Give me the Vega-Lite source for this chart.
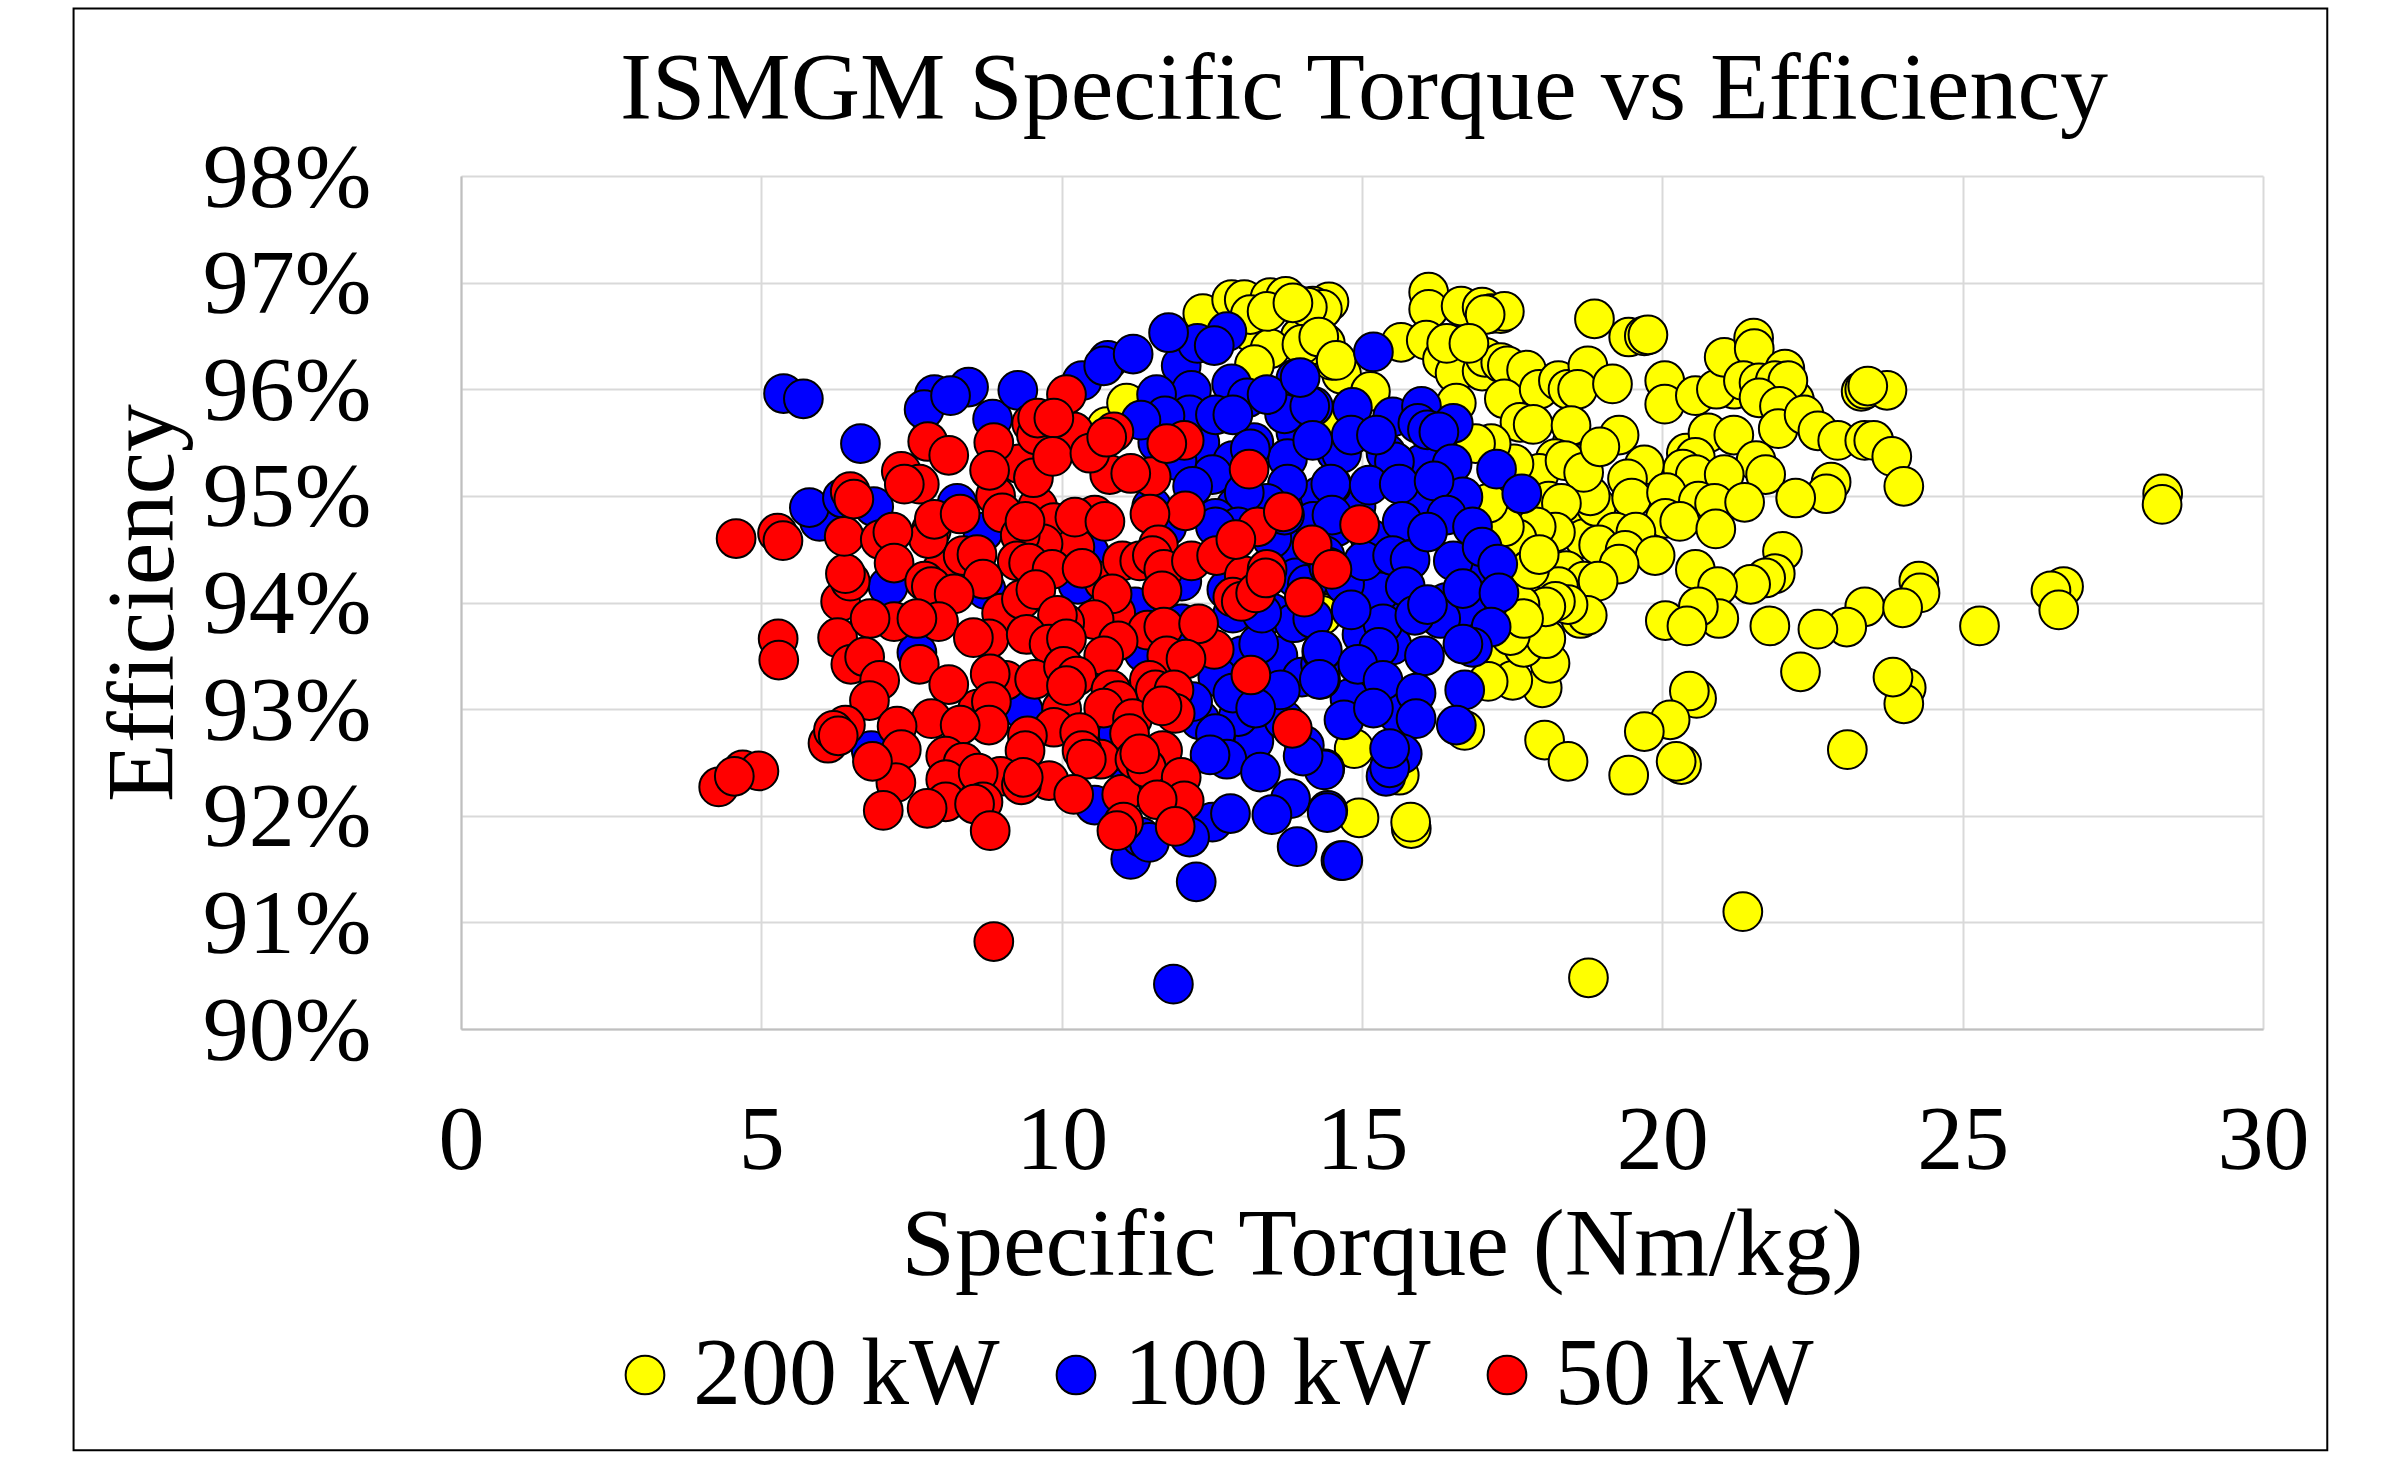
{"$schema":"https://vega.github.io/schema/vega-lite/v6.json","autosize":"none","width":1802,"height":853,"padding":{"left":461,"top":176,"right":135,"bottom":437},"background":"white","title":{"text":"ISMGM Specific Torque vs Efficiency","font":"Liberation Serif","fontSize":96,"fontWeight":"normal","color":"black","anchor":"middle","offset":0,"dy":131,"dx":2},"config":{"view":{"stroke":null},"font":"Liberation Serif"},"layer":[{"data":{"values":[{}]},"mark":{"type":"rect","fill":null,"stroke":"black","strokeWidth":2},"encoding":{"x":{"datum":-6.45,"type":"quantitative","scale":{"domain":[0,30],"nice":false},"axis":{"title":"Specific Torque (Nm/kg)","titleX":921,"format":"d","labelFlush":false,"grid":true,"values":[0,5,10,15,20,25,30],"ticks":false,"gridColor":"#d9d9d9","gridWidth":2,"domainColor":"#bfbfbf","domainWidth":2,"labelFont":"Liberation Serif","labelFontSize":92,"labelColor":"black","labelPadding":66,"titleFont":"Liberation Serif","titleFontSize":96,"titleFontWeight":"normal","titleColor":"black","titlePadding":12}},"x2":{"datum":31.07},"y":{"datum":99.57,"type":"quantitative","scale":{"domain":[90,98],"nice":false},"axis":{"title":"Efficiency","grid":true,"values":[90,91,92,93,94,95,96,97,98],"labelExpr":"datum.value + '%'","labelOffset":2,"labelFlush":false,"ticks":false,"gridColor":"#d9d9d9","gridWidth":2,"domainColor":"#bfbfbf","domainWidth":2,"labelFont":"Liberation Serif","labelFontSize":92,"labelColor":"black","labelPadding":90,"titleFont":"Liberation Serif","titleFontSize":96,"titleFontWeight":"normal","titleColor":"black","titlePadding":69}},"y2":{"datum":86.05}}},{"data":{"values":[
{"power":"200 kW","torque":18.5,"eff":94.9},{"power":"200 kW","torque":18.7,"eff":94.6},{"power":"200 kW","torque":18.9,"eff":94.9},{"power":"200 kW","torque":18.4,"eff":94.3},{"power":"200 kW","torque":18.7,"eff":94.2},{"power":"200 kW","torque":17.9,"eff":94.1},{"power":"200 kW","torque":17.7,"eff":94.5},{"power":"200 kW","torque":18.5,"eff":95.5},{"power":"200 kW","torque":18.8,"eff":95.0},{"power":"200 kW","torque":19.6,"eff":95.2},{"power":"200 kW","torque":19.7,"eff":94.6},{"power":"200 kW","torque":17.4,"eff":93.9},{"power":"200 kW","torque":17.3,"eff":93.5},{"power":"200 kW","torque":18.0,"eff":93.2},{"power":"200 kW","torque":20.8,"eff":95.0},{"power":"200 kW","torque":20.4,"eff":95.4},{"power":"200 kW","torque":22.2,"eff":95.9},{"power":"200 kW","torque":21.2,"eff":96.0},{"power":"200 kW","torque":14.45,"eff":96.82},{"power":"200 kW","torque":14.18,"eff":96.78},{"power":"200 kW","torque":13.97,"eff":96.78},{"power":"200 kW","torque":14.34,"eff":96.75},{"power":"200 kW","torque":16.11,"eff":96.91},{"power":"200 kW","torque":16.11,"eff":96.75},{"power":"200 kW","torque":16.65,"eff":96.78},{"power":"200 kW","torque":17.0,"eff":96.77},{"power":"200 kW","torque":17.15,"eff":96.71},{"power":"200 kW","torque":17.31,"eff":96.71},{"power":"200 kW","torque":17.37,"eff":96.73},{"power":"200 kW","torque":17.05,"eff":96.7},{"power":"200 kW","torque":15.65,"eff":96.44},{"power":"200 kW","torque":16.07,"eff":96.46},{"power":"200 kW","torque":16.34,"eff":96.28},{"power":"200 kW","torque":16.57,"eff":96.41},{"power":"200 kW","torque":16.55,"eff":96.15},{"power":"200 kW","torque":17.0,"eff":96.17},{"power":"200 kW","torque":17.05,"eff":96.3},{"power":"200 kW","torque":17.31,"eff":96.25},{"power":"200 kW","torque":17.42,"eff":96.22},{"power":"200 kW","torque":17.74,"eff":96.18},{"power":"200 kW","torque":16.57,"eff":95.87},{"power":"200 kW","torque":17.37,"eff":95.91},{"power":"200 kW","torque":17.95,"eff":96.0},{"power":"200 kW","torque":18.27,"eff":96.08},{"power":"200 kW","torque":18.43,"eff":96.0},{"power":"200 kW","torque":18.76,"eff":96.22},{"power":"200 kW","torque":18.59,"eff":96.0},{"power":"200 kW","torque":19.17,"eff":96.05},{"power":"200 kW","torque":17.63,"eff":95.69},{"power":"200 kW","torque":17.85,"eff":95.67},{"power":"200 kW","torque":18.48,"eff":95.66},{"power":"200 kW","torque":18.87,"eff":96.66},{"power":"200 kW","torque":19.44,"eff":96.49},{"power":"200 kW","torque":19.7,"eff":96.5},{"power":"200 kW","torque":19.76,"eff":96.51},{"power":"200 kW","torque":20.04,"eff":96.08},{"power":"200 kW","torque":20.04,"eff":95.86},{"power":"200 kW","torque":20.55,"eff":95.94},{"power":"200 kW","torque":20.9,"eff":96.0},{"power":"200 kW","torque":21.03,"eff":96.3},{"power":"200 kW","torque":21.52,"eff":96.48},{"power":"200 kW","torque":21.53,"eff":96.38},{"power":"200 kW","torque":21.35,"eff":96.08},{"power":"200 kW","torque":21.61,"eff":96.06},{"power":"200 kW","torque":22.04,"eff":96.19},{"power":"200 kW","torque":21.88,"eff":96.08},{"power":"200 kW","torque":22.09,"eff":96.08},{"power":"200 kW","torque":21.61,"eff":95.92},{"power":"200 kW","torque":21.95,"eff":95.84},{"power":"200 kW","torque":21.93,"eff":95.63},{"power":"200 kW","torque":22.36,"eff":95.76},{"power":"200 kW","torque":22.59,"eff":95.61},{"power":"200 kW","torque":22.92,"eff":95.52},{"power":"200 kW","torque":23.37,"eff":95.52},{"power":"200 kW","torque":23.52,"eff":95.52},{"power":"200 kW","torque":23.82,"eff":95.37},{"power":"200 kW","torque":24.02,"eff":95.09},{"power":"200 kW","torque":23.31,"eff":95.98},{"power":"200 kW","torque":23.37,"eff":96.0},{"power":"200 kW","torque":23.74,"eff":95.99},{"power":"200 kW","torque":23.42,"eff":96.03},{"power":"200 kW","torque":19.28,"eff":95.57},{"power":"200 kW","torque":20.76,"eff":95.59},{"power":"200 kW","torque":21.19,"eff":95.57},{"power":"200 kW","torque":21.56,"eff":95.33},{"power":"200 kW","torque":21.72,"eff":95.2},{"power":"200 kW","torque":20.55,"eff":95.36},{"power":"200 kW","torque":20.34,"eff":95.25},{"power":"200 kW","torque":20.55,"eff":95.2},{"power":"200 kW","torque":21.03,"eff":95.2},{"power":"200 kW","torque":19.7,"eff":95.29},{"power":"200 kW","torque":19.42,"eff":95.16},{"power":"200 kW","torque":19.49,"eff":94.98},{"power":"200 kW","torque":20.07,"eff":95.03},{"power":"200 kW","torque":18.22,"eff":95.35},{"power":"200 kW","torque":17.95,"eff":95.21},{"power":"200 kW","torque":18.64,"eff":95.3},{"power":"200 kW","torque":18.38,"eff":95.33},{"power":"200 kW","torque":18.69,"eff":95.22},{"power":"200 kW","torque":18.96,"eff":95.46},{"power":"200 kW","torque":18.11,"eff":94.95},{"power":"200 kW","torque":18.32,"eff":94.93},{"power":"200 kW","torque":20.6,"eff":94.95},{"power":"200 kW","torque":20.87,"eff":94.93},{"power":"200 kW","torque":21.37,"eff":94.94},{"power":"200 kW","torque":20.05,"eff":94.79},{"power":"200 kW","torque":20.29,"eff":94.76},{"power":"200 kW","torque":20.89,"eff":94.69},{"power":"200 kW","torque":22.81,"eff":95.13},{"power":"200 kW","torque":22.73,"eff":95.02},{"power":"200 kW","torque":22.22,"eff":94.98},{"power":"200 kW","torque":28.33,"eff":95.02},{"power":"200 kW","torque":28.32,"eff":94.92},{"power":"200 kW","torque":18.22,"eff":94.66},{"power":"200 kW","torque":17.9,"eff":94.71},{"power":"200 kW","torque":19.22,"eff":94.66},{"power":"200 kW","torque":19.56,"eff":94.66},{"power":"200 kW","torque":18.94,"eff":94.54},{"power":"200 kW","torque":19.38,"eff":94.49},{"power":"200 kW","torque":19.88,"eff":94.44},{"power":"200 kW","torque":19.28,"eff":94.36},{"power":"200 kW","torque":18.93,"eff":94.2},{"power":"200 kW","torque":22.0,"eff":94.48},{"power":"200 kW","torque":21.88,"eff":94.27},{"power":"200 kW","torque":21.72,"eff":94.23},{"power":"200 kW","torque":21.47,"eff":94.17},{"power":"200 kW","torque":20.55,"eff":94.31},{"power":"200 kW","torque":20.92,"eff":94.15},{"power":"200 kW","torque":24.27,"eff":94.2},{"power":"200 kW","torque":24.29,"eff":94.09},{"power":"200 kW","torque":23.37,"eff":93.96},{"power":"200 kW","torque":24.0,"eff":93.95},{"power":"200 kW","torque":23.07,"eff":93.77},{"power":"200 kW","torque":22.59,"eff":93.75},{"power":"200 kW","torque":21.79,"eff":93.78},{"power":"200 kW","torque":20.94,"eff":93.85},{"power":"200 kW","torque":20.6,"eff":93.96},{"power":"200 kW","torque":20.05,"eff":93.83},{"power":"200 kW","torque":20.41,"eff":93.78},{"power":"200 kW","torque":25.28,"eff":93.78},{"power":"200 kW","torque":26.68,"eff":94.15},{"power":"200 kW","torque":26.47,"eff":94.11},{"power":"200 kW","torque":26.6,"eff":93.93},{"power":"200 kW","torque":22.3,"eff":93.35},{"power":"200 kW","torque":24.06,"eff":93.2},{"power":"200 kW","torque":24.02,"eff":93.05},{"power":"200 kW","torque":23.84,"eff":93.3},{"power":"200 kW","torque":20.57,"eff":93.1},{"power":"200 kW","torque":20.45,"eff":93.17},{"power":"200 kW","torque":20.13,"eff":92.9},{"power":"200 kW","torque":19.7,"eff":92.79},{"power":"200 kW","torque":20.32,"eff":92.48},{"power":"200 kW","torque":20.23,"eff":92.51},{"power":"200 kW","torque":19.44,"eff":92.38},{"power":"200 kW","torque":18.04,"eff":92.71},{"power":"200 kW","torque":18.43,"eff":92.51},{"power":"200 kW","torque":23.08,"eff":92.62},{"power":"200 kW","torque":16.71,"eff":92.8},{"power":"200 kW","torque":14.87,"eff":92.63},{"power":"200 kW","torque":15.62,"eff":92.38},{"power":"200 kW","torque":14.95,"eff":91.98},{"power":"200 kW","torque":15.82,"eff":91.88},{"power":"200 kW","torque":15.81,"eff":91.94},{"power":"200 kW","torque":21.34,"eff":91.1},{"power":"200 kW","torque":18.77,"eff":90.48},{"power":"200 kW","torque":18.13,"eff":93.43},{"power":"200 kW","torque":17.51,"eff":93.27},{"power":"200 kW","torque":17.1,"eff":93.26},{"power":"200 kW","torque":17.69,"eff":93.58},{"power":"200 kW","torque":18.06,"eff":93.66},{"power":"200 kW","torque":17.47,"eff":93.69},{"power":"200 kW","torque":18.64,"eff":93.85},{"power":"200 kW","torque":18.75,"eff":93.88},{"power":"200 kW","torque":18.27,"eff":94.15},{"power":"200 kW","torque":18.43,"eff":93.98},{"power":"200 kW","torque":18.22,"eff":94.01},{"power":"200 kW","torque":18.06,"eff":93.96},{"power":"200 kW","torque":17.63,"eff":93.98},{"power":"200 kW","torque":17.69,"eff":93.85},{"power":"200 kW","torque":17.58,"eff":94.6},{"power":"200 kW","torque":17.79,"eff":94.31},{"power":"200 kW","torque":17.95,"eff":94.45},{"power":"200 kW","torque":17.21,"eff":94.86},{"power":"200 kW","torque":17.37,"eff":94.71},{"power":"200 kW","torque":17.1,"eff":94.93},{"power":"200 kW","torque":17.53,"eff":95.3},{"power":"200 kW","torque":17.15,"eff":95.49},{"power":"200 kW","torque":16.89,"eff":95.49},{"power":"200 kW","torque":14.66,"eff":96.14},{"power":"200 kW","torque":14.5,"eff":96.27},{"power":"200 kW","torque":14.39,"eff":96.43},{"power":"200 kW","torque":14.13,"eff":96.41},{"power":"200 kW","torque":13.97,"eff":96.49},{"power":"200 kW","torque":15.14,"eff":95.98},{"power":"200 kW","torque":16.41,"eff":96.43},{"power":"200 kW","torque":16.78,"eff":96.43},{"power":"200 kW","torque":14.29,"eff":95.71},{"power":"200 kW","torque":14.34,"eff":93.9},{"power":"200 kW","torque":12.35,"eff":96.71},{"power":"200 kW","torque":12.83,"eff":96.84},{"power":"200 kW","torque":13.04,"eff":96.84},{"power":"200 kW","torque":13.47,"eff":96.86},{"power":"200 kW","torque":13.73,"eff":96.87},{"power":"200 kW","torque":14.09,"eff":96.77},{"power":"200 kW","torque":13.14,"eff":96.54},{"power":"200 kW","torque":13.47,"eff":96.38},{"power":"200 kW","torque":13.21,"eff":96.23},{"power":"200 kW","torque":14.0,"eff":96.42},{"power":"200 kW","torque":14.28,"eff":96.49},{"power":"200 kW","torque":14.57,"eff":96.27},{"power":"200 kW","torque":13.14,"eff":96.7},{"power":"200 kW","torque":13.42,"eff":96.73},{"power":"200 kW","torque":13.85,"eff":96.81},{"power":"200 kW","torque":10.75,"eff":95.65},{"power":"200 kW","torque":11.08,"eff":95.87},{"power":"200 kW","torque":14.47,"eff":95.68},{"power":"200 kW","torque":14.33,"eff":93.88},
{"power":"100 kW","torque":13.5,"eff":93.9},{"power":"100 kW","torque":13.0,"eff":93.5},{"power":"100 kW","torque":12.6,"eff":93.3},{"power":"100 kW","torque":13.8,"eff":94.5},{"power":"100 kW","torque":14.3,"eff":95.0},{"power":"100 kW","torque":13.2,"eff":95.5},{"power":"100 kW","torque":12.0,"eff":94.2},{"power":"100 kW","torque":11.5,"eff":94.9},{"power":"100 kW","torque":15.9,"eff":94.9},{"power":"100 kW","torque":16.2,"eff":95.5},{"power":"100 kW","torque":15.0,"eff":93.7},{"power":"100 kW","torque":15.6,"eff":94.0},{"power":"100 kW","torque":12.0,"eff":93.8},{"power":"100 kW","torque":13.6,"eff":93.5},{"power":"100 kW","torque":14.0,"eff":93.3},{"power":"100 kW","torque":13.5,"eff":94.6},{"power":"100 kW","torque":13.9,"eff":95.6},{"power":"100 kW","torque":12.3,"eff":95.5},{"power":"100 kW","torque":11.6,"eff":95.5},{"power":"100 kW","torque":12.9,"eff":94.9},{"power":"100 kW","torque":14.9,"eff":94.9},{"power":"100 kW","torque":15.4,"eff":95.4},{"power":"100 kW","torque":16.0,"eff":95.3},{"power":"100 kW","torque":15.3,"eff":94.1},{"power":"100 kW","torque":16.4,"eff":94.0},{"power":"100 kW","torque":16.9,"eff":94.3},{"power":"100 kW","torque":15.5,"eff":93.6},{"power":"100 kW","torque":14.8,"eff":93.1},{"power":"100 kW","torque":15.6,"eff":92.95},{"power":"100 kW","torque":13.2,"eff":92.7},{"power":"100 kW","torque":13.7,"eff":92.9},{"power":"100 kW","torque":14.7,"eff":92.9},{"power":"100 kW","torque":11.8,"eff":93.1},{"power":"100 kW","torque":12.3,"eff":92.9},{"power":"100 kW","torque":5.37,"eff":95.96},{"power":"100 kW","torque":5.7,"eff":95.91},{"power":"100 kW","torque":6.65,"eff":95.49},{"power":"100 kW","torque":5.97,"eff":94.76},{"power":"100 kW","torque":5.8,"eff":94.89},{"power":"100 kW","torque":6.35,"eff":94.98},{"power":"100 kW","torque":6.87,"eff":94.9},{"power":"100 kW","torque":7.88,"eff":95.95},{"power":"100 kW","torque":8.45,"eff":96.02},{"power":"100 kW","torque":7.71,"eff":95.81},{"power":"100 kW","torque":8.15,"eff":95.94},{"power":"100 kW","torque":8.85,"eff":95.72},{"power":"100 kW","torque":9.27,"eff":95.99},{"power":"100 kW","torque":10.34,"eff":96.08},{"power":"100 kW","torque":10.77,"eff":96.27},{"power":"100 kW","torque":10.7,"eff":96.22},{"power":"100 kW","torque":11.19,"eff":96.33},{"power":"100 kW","torque":11.99,"eff":96.22},{"power":"100 kW","torque":12.26,"eff":96.43},{"power":"100 kW","torque":12.75,"eff":96.54},{"power":"100 kW","torque":11.78,"eff":96.53},{"power":"100 kW","torque":12.54,"eff":96.41},{"power":"100 kW","torque":12.16,"eff":95.99},{"power":"100 kW","torque":12.83,"eff":96.05},{"power":"100 kW","torque":13.9,"eff":96.1},{"power":"100 kW","torque":11.58,"eff":95.95},{"power":"100 kW","torque":13.09,"eff":95.92},{"power":"100 kW","torque":12.13,"eff":95.76},{"power":"100 kW","torque":11.72,"eff":95.75},{"power":"100 kW","torque":12.56,"eff":95.76},{"power":"100 kW","torque":12.85,"eff":95.76},{"power":"100 kW","torque":13.71,"eff":95.77},{"power":"100 kW","torque":13.42,"eff":95.95},{"power":"100 kW","torque":14.19,"eff":95.84},{"power":"100 kW","torque":11.32,"eff":95.71},{"power":"100 kW","torque":13.76,"eff":95.35},{"power":"100 kW","torque":12.85,"eff":95.33},{"power":"100 kW","torque":13.14,"eff":95.44},{"power":"100 kW","torque":12.51,"eff":95.2},{"power":"100 kW","torque":11.92,"eff":95.33},{"power":"100 kW","torque":14.57,"eff":95.41},{"power":"100 kW","torque":14.5,"eff":95.1},{"power":"100 kW","torque":13.76,"eff":95.11},{"power":"100 kW","torque":13.42,"eff":94.93},{"power":"100 kW","torque":13.04,"eff":95.03},{"power":"100 kW","torque":12.18,"eff":95.09},{"power":"100 kW","torque":12.56,"eff":94.79},{"power":"100 kW","torque":11.75,"eff":94.71},{"power":"100 kW","torque":14.19,"eff":94.76},{"power":"100 kW","torque":14.57,"eff":94.71},{"power":"100 kW","torque":13.28,"eff":93.61},{"power":"100 kW","torque":13.87,"eff":93.81},{"power":"100 kW","torque":14.31,"eff":93.28},{"power":"100 kW","torque":14.31,"eff":93.42},{"power":"100 kW","torque":14.33,"eff":93.54},{"power":"100 kW","torque":12.94,"eff":92.93},{"power":"100 kW","torque":12.85,"eff":93.15},{"power":"100 kW","torque":13.64,"eff":93.18},{"power":"100 kW","torque":13.23,"eff":93.01},{"power":"100 kW","torque":12.56,"eff":92.77},{"power":"100 kW","torque":12.75,"eff":92.53},{"power":"100 kW","torque":12.47,"eff":92.57},{"power":"100 kW","torque":13.31,"eff":92.41},{"power":"100 kW","torque":14.04,"eff":92.66},{"power":"100 kW","torque":14.38,"eff":92.44},{"power":"100 kW","torque":13.81,"eff":92.16},{"power":"100 kW","torque":13.5,"eff":92.01},{"power":"100 kW","torque":14.43,"eff":92.05},{"power":"100 kW","torque":12.51,"eff":91.94},{"power":"100 kW","torque":12.81,"eff":92.02},{"power":"100 kW","torque":13.92,"eff":91.71},{"power":"100 kW","torque":14.65,"eff":91.58},{"power":"100 kW","torque":12.24,"eff":91.38},{"power":"100 kW","torque":11.86,"eff":90.42},{"power":"100 kW","torque":11.15,"eff":91.59},{"power":"100 kW","torque":11.32,"eff":91.8},{"power":"100 kW","torque":11.46,"eff":91.75},{"power":"100 kW","torque":12.13,"eff":91.8},{"power":"100 kW","torque":10.55,"eff":92.1},{"power":"100 kW","torque":12.18,"eff":93.07},{"power":"100 kW","torque":11.13,"eff":92.29},{"power":"100 kW","torque":10.94,"eff":92.77},{"power":"100 kW","torque":9.36,"eff":92.99},{"power":"100 kW","torque":6.83,"eff":92.61},{"power":"100 kW","torque":7.59,"eff":93.53},{"power":"100 kW","torque":11.37,"eff":93.53},{"power":"100 kW","torque":11.22,"eff":93.96},{"power":"100 kW","torque":10.27,"eff":94.17},{"power":"100 kW","torque":8.69,"eff":94.66},{"power":"100 kW","torque":8.26,"eff":94.93},{"power":"100 kW","torque":7.11,"eff":94.15},{"power":"100 kW","torque":8.74,"eff":94.12},{"power":"100 kW","torque":10.46,"eff":94.47},{"power":"100 kW","torque":12.85,"eff":93.9},{"power":"100 kW","torque":13.33,"eff":93.9},{"power":"100 kW","torque":13.9,"eff":94.23},{"power":"100 kW","torque":14.09,"eff":94.17},{"power":"100 kW","torque":12.75,"eff":94.12},{"power":"100 kW","torque":14.38,"eff":94.44},{"power":"100 kW","torque":13.71,"eff":94.82},{"power":"100 kW","torque":12.94,"eff":94.71},{"power":"100 kW","torque":12.56,"eff":94.71},{"power":"100 kW","torque":15.19,"eff":96.35},{"power":"100 kW","torque":14.84,"eff":95.83},{"power":"100 kW","torque":15.51,"eff":95.74},{"power":"100 kW","torque":15.99,"eff":95.84},{"power":"100 kW","torque":15.93,"eff":95.68},{"power":"100 kW","torque":16.52,"eff":95.68},{"power":"100 kW","torque":16.09,"eff":95.62},{"power":"100 kW","torque":16.28,"eff":95.6},{"power":"100 kW","torque":14.13,"eff":95.84},{"power":"100 kW","torque":13.97,"eff":96.11},{"power":"100 kW","torque":14.66,"eff":95.4},{"power":"100 kW","torque":15.54,"eff":95.32},{"power":"100 kW","torque":16.5,"eff":95.3},{"power":"100 kW","torque":17.24,"eff":95.25},{"power":"100 kW","torque":17.66,"eff":95.02},{"power":"100 kW","torque":16.68,"eff":94.99},{"power":"100 kW","torque":14.48,"eff":95.11},{"power":"100 kW","torque":15.12,"eff":95.1},{"power":"100 kW","torque":15.62,"eff":95.11},{"power":"100 kW","torque":16.2,"eff":95.14},{"power":"100 kW","torque":14.82,"eff":95.57},{"power":"100 kW","torque":14.18,"eff":95.52},{"power":"100 kW","torque":15.24,"eff":95.57},{"power":"100 kW","torque":14.5,"eff":94.82},{"power":"100 kW","torque":15.14,"eff":94.6},{"power":"100 kW","torque":16.41,"eff":94.82},{"power":"100 kW","torque":15.67,"eff":94.76},{"power":"100 kW","torque":14.45,"eff":94.33},{"power":"100 kW","torque":14.71,"eff":94.17},{"power":"100 kW","torque":14.18,"eff":93.85},{"power":"100 kW","torque":15.35,"eff":93.8},{"power":"100 kW","torque":16.73,"eff":93.96},{"power":"100 kW","torque":16.84,"eff":94.71},{"power":"100 kW","torque":16.52,"eff":94.39},{"power":"100 kW","torque":16.31,"eff":93.85},{"power":"100 kW","torque":17.0,"eff":94.52},{"power":"100 kW","torque":15.03,"eff":94.39},{"power":"100 kW","torque":15.51,"eff":94.44},{"power":"100 kW","torque":15.8,"eff":94.4},{"power":"100 kW","torque":16.09,"eff":94.66},{"power":"100 kW","torque":17.26,"eff":94.36},{"power":"100 kW","torque":15.72,"eff":94.15},{"power":"100 kW","torque":16.68,"eff":94.13},{"power":"100 kW","torque":17.28,"eff":94.09},{"power":"100 kW","torque":15.88,"eff":93.88},{"power":"100 kW","torque":16.09,"eff":93.98},{"power":"100 kW","torque":14.82,"eff":93.93},{"power":"100 kW","torque":17.15,"eff":93.77},{"power":"100 kW","torque":16.84,"eff":93.58},{"power":"100 kW","torque":16.68,"eff":93.61},{"power":"100 kW","torque":14.34,"eff":93.55},{"power":"100 kW","torque":15.28,"eff":93.58},{"power":"100 kW","torque":16.04,"eff":93.5},{"power":"100 kW","torque":14.29,"eff":93.28},{"power":"100 kW","torque":14.93,"eff":93.42},{"power":"100 kW","torque":15.35,"eff":93.27},{"power":"100 kW","torque":15.9,"eff":93.15},{"power":"100 kW","torque":16.71,"eff":93.18},{"power":"100 kW","torque":15.19,"eff":93.01},{"power":"100 kW","torque":15.9,"eff":92.91},{"power":"100 kW","torque":16.57,"eff":92.85},{"power":"100 kW","torque":15.67,"eff":92.58},{"power":"100 kW","torque":15.4,"eff":92.37},{"power":"100 kW","torque":15.46,"eff":92.45},{"power":"100 kW","torque":15.46,"eff":92.63},{"power":"100 kW","torque":14.37,"eff":92.43},{"power":"100 kW","torque":14.42,"eff":92.03},{"power":"100 kW","torque":14.68,"eff":91.58},{"power":"100 kW","torque":14.02,"eff":92.56},
{"power":"50 kW","torque":8.9,"eff":95.0},{"power":"50 kW","torque":9.6,"eff":94.9},{"power":"50 kW","torque":8.0,"eff":94.3},{"power":"50 kW","torque":10.7,"eff":94.2},{"power":"50 kW","torque":10.8,"eff":95.2},{"power":"50 kW","torque":9.3,"eff":95.3},{"power":"50 kW","torque":10.2,"eff":95.6},{"power":"50 kW","torque":9.0,"eff":93.9},{"power":"50 kW","torque":10.9,"eff":93.9},{"power":"50 kW","torque":8.6,"eff":93.0},{"power":"50 kW","torque":10.0,"eff":93.0},{"power":"50 kW","torque":11.0,"eff":92.2},{"power":"50 kW","torque":4.29,"eff":92.27},{"power":"50 kW","torque":4.69,"eff":92.43},{"power":"50 kW","torque":4.96,"eff":92.42},{"power":"50 kW","torque":4.55,"eff":92.37},{"power":"50 kW","torque":4.58,"eff":94.6},{"power":"50 kW","torque":5.27,"eff":94.65},{"power":"50 kW","torque":5.36,"eff":94.58},{"power":"50 kW","torque":5.28,"eff":93.66},{"power":"50 kW","torque":5.29,"eff":93.46},{"power":"50 kW","torque":6.32,"eff":94.01},{"power":"50 kW","torque":6.27,"eff":93.67},{"power":"50 kW","torque":6.48,"eff":94.2},{"power":"50 kW","torque":6.4,"eff":94.27},{"power":"50 kW","torque":6.38,"eff":94.62},{"power":"50 kW","torque":6.48,"eff":95.04},{"power":"50 kW","torque":6.54,"eff":94.97},{"power":"50 kW","torque":7.33,"eff":95.23},{"power":"50 kW","torque":7.63,"eff":95.11},{"power":"50 kW","torque":7.38,"eff":95.11},{"power":"50 kW","torque":7.77,"eff":95.51},{"power":"50 kW","torque":8.12,"eff":95.38},{"power":"50 kW","torque":8.87,"eff":95.5},{"power":"50 kW","torque":8.8,"eff":95.24},{"power":"50 kW","torque":9.5,"eff":95.68},{"power":"50 kW","torque":9.58,"eff":95.57},{"power":"50 kW","torque":9.6,"eff":95.73},{"power":"50 kW","torque":10.08,"eff":95.95},{"power":"50 kW","torque":9.87,"eff":95.73},{"power":"50 kW","torque":9.53,"eff":95.17},{"power":"50 kW","torque":9.85,"eff":95.37},{"power":"50 kW","torque":10.47,"eff":95.4},{"power":"50 kW","torque":10.87,"eff":95.6},{"power":"50 kW","torque":10.75,"eff":95.55},{"power":"50 kW","torque":11.49,"eff":95.18},{"power":"50 kW","torque":11.15,"eff":95.21},{"power":"50 kW","torque":12.04,"eff":95.52},{"power":"50 kW","torque":11.75,"eff":95.49},{"power":"50 kW","torque":13.12,"eff":95.25},{"power":"50 kW","torque":12.06,"eff":94.86},{"power":"50 kW","torque":11.47,"eff":94.83},{"power":"50 kW","torque":7.83,"eff":94.68},{"power":"50 kW","torque":7.78,"eff":94.6},{"power":"50 kW","torque":9.01,"eff":94.84},{"power":"50 kW","torque":9.87,"eff":94.75},{"power":"50 kW","torque":10.55,"eff":94.82},{"power":"50 kW","torque":10.22,"eff":94.52},{"power":"50 kW","torque":9.69,"eff":94.55},{"power":"50 kW","torque":9.31,"eff":94.63},{"power":"50 kW","torque":8.36,"eff":94.44},{"power":"50 kW","torque":8.59,"eff":94.45},{"power":"50 kW","torque":9.26,"eff":94.39},{"power":"50 kW","torque":9.45,"eff":94.37},{"power":"50 kW","torque":9.84,"eff":94.31},{"power":"50 kW","torque":10.34,"eff":94.32},{"power":"50 kW","torque":11.01,"eff":94.39},{"power":"50 kW","torque":11.3,"eff":94.39},{"power":"50 kW","torque":11.61,"eff":94.54},{"power":"50 kW","torque":11.51,"eff":94.44},{"power":"50 kW","torque":11.7,"eff":94.31},{"power":"50 kW","torque":12.16,"eff":94.39},{"power":"50 kW","torque":10.22,"eff":94.8},{"power":"50 kW","torque":10.72,"eff":94.76},{"power":"50 kW","torque":9.39,"eff":94.76},{"power":"50 kW","torque":7.88,"eff":94.78},{"power":"50 kW","torque":8.31,"eff":94.83},{"power":"50 kW","torque":6.98,"eff":94.59},{"power":"50 kW","torque":7.19,"eff":94.66},{"power":"50 kW","torque":7.21,"eff":94.37},{"power":"50 kW","torque":7.72,"eff":94.2},{"power":"50 kW","torque":7.83,"eff":94.15},{"power":"50 kW","torque":8.69,"eff":94.22},{"power":"50 kW","torque":8.21,"eff":94.08},{"power":"50 kW","torque":9.33,"eff":94.03},{"power":"50 kW","torque":9.57,"eff":94.12},{"power":"50 kW","torque":10.84,"eff":94.08},{"power":"50 kW","torque":11.67,"eff":94.11},{"power":"50 kW","torque":10.54,"eff":93.84},{"power":"50 kW","torque":10.05,"eff":93.81},{"power":"50 kW","torque":9.93,"eff":93.88},{"power":"50 kW","torque":7.21,"eff":93.82},{"power":"50 kW","torque":6.81,"eff":93.85},{"power":"50 kW","torque":7.95,"eff":93.82},{"power":"50 kW","torque":7.59,"eff":93.85},{"power":"50 kW","torque":12.54,"eff":93.56},{"power":"50 kW","torque":11.43,"eff":93.74},{"power":"50 kW","torque":11.7,"eff":93.77},{"power":"50 kW","torque":12.28,"eff":93.8},{"power":"50 kW","torque":12.58,"eff":94.44},{"power":"50 kW","torque":13.04,"eff":94.25},{"power":"50 kW","torque":13.42,"eff":94.31},{"power":"50 kW","torque":12.85,"eff":94.05},{"power":"50 kW","torque":12.99,"eff":94.01},{"power":"50 kW","torque":13.23,"eff":94.09},{"power":"50 kW","torque":13.4,"eff":94.23},{"power":"50 kW","torque":13.26,"eff":94.71},{"power":"50 kW","torque":12.9,"eff":94.59},{"power":"50 kW","torque":13.69,"eff":94.85},{"power":"50 kW","torque":14.17,"eff":94.54},{"power":"50 kW","torque":14.5,"eff":94.31},{"power":"50 kW","torque":14.04,"eff":94.05},{"power":"50 kW","torque":14.96,"eff":94.73},{"power":"50 kW","torque":8.79,"eff":93.66},{"power":"50 kW","torque":8.53,"eff":93.67},{"power":"50 kW","torque":9.41,"eff":93.7},{"power":"50 kW","torque":9.79,"eff":93.61},{"power":"50 kW","torque":10.08,"eff":93.66},{"power":"50 kW","torque":10.94,"eff":93.64},{"power":"50 kW","torque":10.7,"eff":93.5},{"power":"50 kW","torque":11.75,"eff":93.5},{"power":"50 kW","torque":12.07,"eff":93.47},{"power":"50 kW","torque":6.49,"eff":93.42},{"power":"50 kW","torque":6.72,"eff":93.49},{"power":"50 kW","torque":7.63,"eff":93.42},{"power":"50 kW","torque":8.12,"eff":93.23},{"power":"50 kW","torque":9.07,"eff":93.27},{"power":"50 kW","torque":8.81,"eff":93.33},{"power":"50 kW","torque":9.55,"eff":93.28},{"power":"50 kW","torque":10.03,"eff":93.4},{"power":"50 kW","torque":10.25,"eff":93.31},{"power":"50 kW","torque":10.08,"eff":93.22},{"power":"50 kW","torque":11.46,"eff":93.27},{"power":"50 kW","torque":11.56,"eff":93.18},{"power":"50 kW","torque":11.87,"eff":93.18},{"power":"50 kW","torque":13.15,"eff":93.32},{"power":"50 kW","torque":6.97,"eff":93.27},{"power":"50 kW","torque":6.8,"eff":93.08},{"power":"50 kW","torque":10.82,"eff":93.18},{"power":"50 kW","torque":10.94,"eff":93.08},{"power":"50 kW","torque":10.7,"eff":93.01},{"power":"50 kW","torque":11.18,"eff":92.91},{"power":"50 kW","torque":11.89,"eff":92.96},{"power":"50 kW","torque":11.67,"eff":93.03},{"power":"50 kW","torque":8.83,"eff":93.07},{"power":"50 kW","torque":7.83,"eff":92.91},{"power":"50 kW","torque":8.79,"eff":92.85},{"power":"50 kW","torque":8.31,"eff":92.85},{"power":"50 kW","torque":7.26,"eff":92.84},{"power":"50 kW","torque":9.87,"eff":92.83},{"power":"50 kW","torque":9.43,"eff":92.75},{"power":"50 kW","torque":10.3,"eff":92.78},{"power":"50 kW","torque":11.13,"eff":92.77},{"power":"50 kW","torque":6.11,"eff":92.68},{"power":"50 kW","torque":6.4,"eff":92.85},{"power":"50 kW","torque":6.2,"eff":92.8},{"power":"50 kW","torque":6.28,"eff":92.75},{"power":"50 kW","torque":7.33,"eff":92.62},{"power":"50 kW","torque":7.24,"eff":92.31},{"power":"50 kW","torque":6.85,"eff":92.51},{"power":"50 kW","torque":8.07,"eff":92.56},{"power":"50 kW","torque":9.39,"eff":92.61},{"power":"50 kW","torque":10.65,"eff":92.53},{"power":"50 kW","torque":10.34,"eff":92.61},{"power":"50 kW","torque":10.41,"eff":92.53},{"power":"50 kW","torque":11.68,"eff":92.61},{"power":"50 kW","torque":11.22,"eff":92.53},{"power":"50 kW","torque":11.41,"eff":92.45},{"power":"50 kW","torque":11.3,"eff":92.58},{"power":"50 kW","torque":8.36,"eff":92.5},{"power":"50 kW","torque":8.07,"eff":92.34},{"power":"50 kW","torque":8.98,"eff":92.37},{"power":"50 kW","torque":8.61,"eff":92.4},{"power":"50 kW","torque":9.79,"eff":92.33},{"power":"50 kW","torque":9.33,"eff":92.29},{"power":"50 kW","torque":9.36,"eff":92.36},{"power":"50 kW","torque":10.2,"eff":92.2},{"power":"50 kW","torque":11.99,"eff":92.36},{"power":"50 kW","torque":12.04,"eff":92.14},{"power":"50 kW","torque":11.59,"eff":92.15},{"power":"50 kW","torque":8.07,"eff":92.13},{"power":"50 kW","torque":8.69,"eff":92.13},{"power":"50 kW","torque":8.55,"eff":92.11},{"power":"50 kW","torque":7.76,"eff":92.07},{"power":"50 kW","torque":7.03,"eff":92.05},{"power":"50 kW","torque":8.81,"eff":91.86},{"power":"50 kW","torque":11.89,"eff":91.9},{"power":"50 kW","torque":11.03,"eff":91.94},{"power":"50 kW","torque":10.92,"eff":91.86},{"power":"50 kW","torque":13.84,"eff":92.82},{"power":"50 kW","torque":8.87,"eff":90.82}
]},"mark":{"type":"point","shape":"circle","filled":true,"size":1500,"stroke":"black","strokeWidth":2,"opacity":1},"encoding":{"x":{"field":"torque","type":"quantitative"},"y":{"field":"eff","type":"quantitative"},"color":{"field":"power","type":"nominal","sort":null,"scale":{"domain":["200 kW","100 kW","50 kW"],"range":["#ffff00","#0000ff","#ff0000"]},"legend":{"title":null,"orient":"none","legendX":136,"legendY":1151,"direction":"horizontal","columns":3,"columnPadding":28,"labelLimit":0,"labelFont":"Liberation Serif","labelFontSize":96,"labelColor":"black","labelOffset":0,"symbolSize":1500,"symbolType":"circle","symbolStrokeColor":"black","symbolStrokeWidth":2,"symbolOpacity":1}}}}]}
